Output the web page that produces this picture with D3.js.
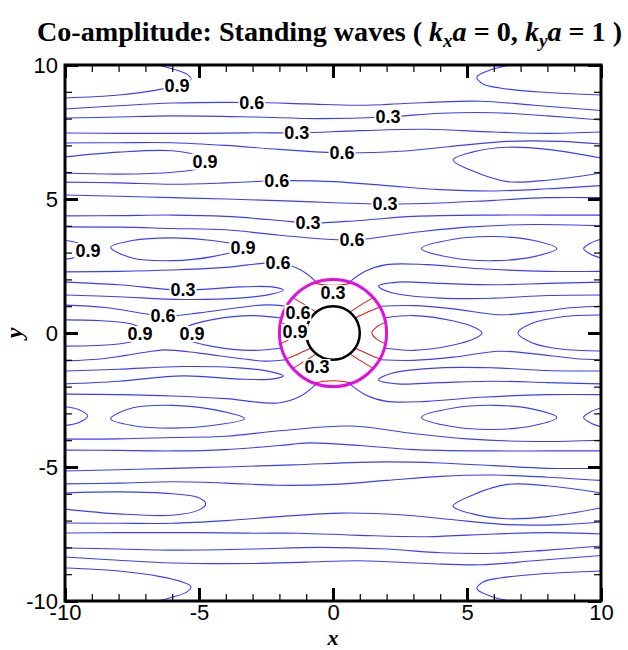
<!DOCTYPE html>
<html>
<head>
<meta charset="utf-8">
<script src="https://cdn.jsdelivr.net/npm/d3@7"></script>
<style>
  body { margin: 0; background: #fff; }
  svg { display: block; }
</style>
</head>
<body>
<svg id="chart" width="628" height="650"></svg>
<script>
// ---- axes ----
const xDomain = [-10, 10];
const yDomain = [-10, 10];
const majorTicks = [-10, -5, 0, 5, 10];
const minorTicks = d3.range(-10, 11, 1);

// ---- geometry of the body ----
const cylinderRadius = 1;
const interfaceRadius = 2;

// ---- outer (far-field) contour lines, blue: [x, y] points ----
// open lines crossing the domain, level 0.6
const outer06 = [
  [[-10,8.36],[-8,8.48],[-6,8.58],[-3,8.6],[-1,8.55],[1,8.5],[3.5,8.6],[5.5,8.65],[7.5,8.5],[10,8.3]],
  [[-10,7.09],[-8,7.1],[-6,7.1],[-4,7.0],[-2,6.85],[0.3,6.72],[2.5,6.78],[4.3,6.95],[6.5,7.15],[8.5,7.15],[10,7.05]],
  [[-10,5.63],[-8,5.6],[-6,5.55],[-4,5.6],[-2.1,5.68],[0,5.65],[2,5.5],[4,5.35],[6,5.3],[8,5.38],[10,5.5]],
  [[-10,3.96],[-8,3.95],[-6,3.9],[-4,3.85],[-2,3.65],[0.7,3.47],[3,3.75],[5,3.95],[7.5,4.05],[10,4.0]],
  [[-10,2.28],[-8,2.3],[-6,2.35],[-4,2.45],[-2.05,2.61],[-1.2,2.35],[-0.62,1.9]],
  [[0.62,1.9],[1.2,2.3],[2,2.55],[3.5,2.55],[5.5,2.4],[8,2.3],[10,2.3]],
  [[-10,1.04],[-8.5,0.95],[-7,0.72],[-6.3,0.63],[-5,0.75],[-3.5,0.95],[-2.5,1.05],[-1.73,1.0]],
  [[1.73,1.0],[3,1.02],[4.5,0.9],[6.2,0.68],[7.5,0.78],[9,0.95],[10,1.0]],
  [[-10,-1.04],[-8.5,-0.95],[-7,-0.72],[-6.3,-0.63],[-5,-0.75],[-3.5,-0.95],[-2.5,-1.05],[-1.73,-1.0]],
  [[1.73,-1.0],[3,-1.02],[4.5,-0.9],[6.2,-0.68],[7.5,-0.78],[9,-0.95],[10,-1.0]],
  [[-10,-2.28],[-8,-2.3],[-6,-2.35],[-4,-2.45],[-2.05,-2.61],[-1.2,-2.35],[-0.62,-1.9]],
  [[0.62,-1.9],[1.2,-2.3],[2,-2.55],[3.5,-2.55],[5.5,-2.4],[8,-2.3],[10,-2.3]],
  [[-10,-3.96],[-8,-3.95],[-6,-3.9],[-4,-3.85],[-2,-3.65],[0.7,-3.47],[3,-3.75],[5,-3.95],[7.5,-4.05],[10,-4.0]],
  [[-10,-5.63],[-8,-5.6],[-6,-5.55],[-4,-5.6],[-2.1,-5.68],[0,-5.65],[2,-5.5],[4,-5.35],[6,-5.3],[8,-5.38],[10,-5.5]],
  [[-10,-7.09],[-8,-7.1],[-6,-7.1],[-4,-7.0],[-2,-6.85],[0.3,-6.72],[2.5,-6.78],[4.3,-6.95],[6.5,-7.15],[8.5,-7.15],[10,-7.05]],
  [[-10,-8.36],[-8,-8.48],[-6,-8.58],[-3,-8.6],[-1,-8.55],[1,-8.5],[3.5,-8.6],[5.5,-8.65],[7.5,-8.5],[10,-8.3]]
];

// level 0.3
const outer03 = [
  [[-10,8.02],[-8,8.06],[-6,8.1],[-3,8.06],[-0.5,8.0],[2,8.06],[4,8.2],[6,8.22],[8,8.1],[10,7.95]],
  [[-10,7.46],[-8,7.45],[-5,7.45],[-3,7.47],[-1.3,7.47],[1,7.55],[3.5,7.6],[6,7.5],[8,7.45],[10,7.5]],
  [[-10,5.15],[-8,5.1],[-6,5.05],[-4,5.0],[-1.5,4.92],[1.9,4.81],[4,4.85],[6,4.95],[8,5.05],[10,5.05]],
  [[-10,4.37],[-8,4.38],[-6,4.4],[-4,4.35],[-2,4.2],[-0.9,4.1],[1,4.2],[3,4.35],[6,4.4],[8,4.4],[10,4.4]],
  [[-10,1.9],[-8,1.8],[-5.6,1.6],[-3.5,1.72],[-2.3,1.72],[-1.85,1.6],[-2.3,1.45],[-3.5,1.3],[-5.6,1.25],[-8,1.35],[-10,1.42]],
  [[10,1.9],[8,1.85],[6,1.8],[4,1.85],[2.4,1.9],[1.7,1.75],[2.2,1.5],[4,1.3],[6,1.3],[8,1.4],[10,1.42]],
  [[-10,-1.9],[-8,-1.8],[-5.6,-1.6],[-3.5,-1.72],[-2.3,-1.72],[-1.85,-1.6],[-2.3,-1.45],[-3.5,-1.3],[-5.6,-1.25],[-8,-1.35],[-10,-1.42]],
  [[10,-1.9],[8,-1.85],[6,-1.8],[4,-1.85],[2.4,-1.9],[1.7,-1.75],[2.2,-1.5],[4,-1.3],[6,-1.3],[8,-1.4],[10,-1.42]],
  [[-10,-4.37],[-8,-4.38],[-6,-4.4],[-4,-4.35],[-2,-4.2],[-0.9,-4.1],[1,-4.2],[3,-4.35],[6,-4.4],[8,-4.4],[10,-4.4]],
  [[-10,-5.15],[-8,-5.1],[-6,-5.05],[-4,-5.0],[-1.5,-4.92],[1.9,-4.81],[4,-4.85],[6,-4.95],[8,-5.05],[10,-5.05]],
  [[-10,-7.46],[-8,-7.45],[-5,-7.45],[-3,-7.47],[-1.3,-7.47],[1,-7.55],[3.5,-7.6],[6,-7.5],[8,-7.45],[10,-7.5]],
  [[-10,-8.02],[-8,-8.06],[-6,-8.1],[-3,-8.06],[-0.5,-8.0],[2,-8.06],[4,-8.2],[6,-8.22],[8,-8.1],[10,-7.95]]
];

// level 0.9 lobes that run into the frame or the interface circle
const outer09 = [
  [[-10,8.77],[-8,8.88],[-6.5,9.08],[-5.6,9.3],[-5.3,9.47],[-5.45,9.66],[-6.0,9.86],[-6.57,10]],
  [[6.6,10],[5.86,9.81],[5.37,9.55],[5.6,9.29],[6.23,9.14],[7.72,8.99],[10,8.88]],
  [[-10,6.57],[-8,6.75],[-6,6.8],[-5,6.6],[-4.75,6.38],[-5,6.15],[-6,6.0],[-8,5.93],[-10,5.97]],
  [[10,6.53],[8,6.85],[6.5,6.93],[5.2,6.75],[4.48,6.46],[5.2,6.05],[6.5,5.65],[8,5.7],[10,5.97]],
  [[-10,3.45],[-9.5,3.35],[-9.15,3.1],[-9.5,2.85],[-10,2.75]],
  [[10,3.5],[9.6,3.35],[9.35,3.15],[9.6,2.95],[10,2.8]],
  [[-10,0.49],[-8.5,0.45],[-7.4,0.3],[-6.9,0],[-7.4,-0.3],[-8.5,-0.45],[-10,-0.49]],
  [[-1.92,0.56],[-3,0.65],[-4.5,0.5],[-5.4,0.25],[-5.65,0],[-5.4,-0.25],[-4.5,-0.5],[-3,-0.65],[-1.92,-0.56]],
  [[1.92,0.56],[3,0.65],[4.5,0.45],[5.3,0.2],[5.56,0],[5.3,-0.2],[4.5,-0.45],[3,-0.65],[1.92,-0.56]],
  [[10,0.67],[8.5,0.6],[7.4,0.35],[6.9,0],[7.4,-0.35],[8.5,-0.6],[10,-0.67]],
  [[-10,-3.45],[-9.5,-3.35],[-9.15,-3.1],[-9.5,-2.85],[-10,-2.75]],
  [[10,-3.5],[9.6,-3.35],[9.35,-3.15],[9.6,-2.95],[10,-2.8]],
  [[-10,-6.57],[-8,-6.75],[-6,-6.8],[-5,-6.6],[-4.75,-6.38],[-5,-6.15],[-6,-6.0],[-8,-5.93],[-10,-5.97]],
  [[10,-6.53],[8,-6.85],[6.5,-6.93],[5.2,-6.75],[4.48,-6.46],[5.2,-6.05],[6.5,-5.65],[8,-5.7],[10,-5.97]],
  [[-10,-8.77],[-8,-8.88],[-6.5,-9.08],[-5.6,-9.3],[-5.3,-9.47],[-5.45,-9.66],[-6.0,-9.86],[-6.57,-10]],
  [[6.6,-10],[5.86,-9.81],[5.37,-9.55],[5.6,-9.29],[6.23,-9.14],[7.72,-8.99],[10,-8.88]]
];

// level 0.9 closed ovals
const ovals09 = [
  [[-8.3,3.2],[-7.5,3.45],[-6,3.55],[-4.5,3.45],[-3.3,3.2],[-4.5,2.85],[-6,2.7],[-7.5,2.8]],
  [[3.3,3.15],[4.5,3.5],[6,3.6],[7.5,3.45],[8.35,3.15],[7.5,2.85],[6,2.7],[4.5,2.8]],
  [[-8.3,-3.2],[-7.5,-3.45],[-6,-3.55],[-4.5,-3.45],[-3.3,-3.2],[-4.5,-2.85],[-6,-2.7],[-7.5,-2.8]],
  [[3.3,-3.15],[4.5,-3.5],[6,-3.6],[7.5,-3.45],[8.35,-3.15],[7.5,-2.85],[6,-2.7],[4.5,-2.8]]
];

// ---- inner (near-field) contour lines, red, between body and interface ----
const inner03 = [
  [[-0.7,1.87],[-0.35,1.8],[0,1.78],[0.35,1.8],[0.7,1.87]],
  [[-0.7,-1.87],[-0.35,-1.8],[0,-1.78],[0.35,-1.8],[0.7,-1.87]],
  [[-0.63,0.78],[-1.05,1.05],[-1.5,1.32]],
  [[0.63,0.78],[1.05,1.05],[1.5,1.32]],
  [[-0.63,-0.78],[-1.05,-1.05],[-1.5,-1.32]],
  [[0.63,-0.78],[1.05,-1.05],[1.5,-1.32]]
];
const inner06 = [
  [[-0.83,0.56],[-1.3,0.78],[-1.75,0.97]],
  [[0.83,0.56],[1.3,0.78],[1.75,0.97]],
  [[-0.83,-0.56],[-1.3,-0.78],[-1.75,-0.97]],
  [[0.83,-0.56],[1.3,-0.78],[1.75,-0.97]]
];
const inner09 = [
  [[-1.96,0.4],[-1.62,0.22],[-1.45,0],[-1.62,-0.22],[-1.96,-0.4]],
  [[1.96,0.4],[1.62,0.22],[1.45,0],[1.62,-0.22],[1.96,-0.4]]
];

// ---- contour labels ----
const labelText = ["0.9","0.6","0.3","0.3","0.6","0.9","0.6","0.3","0.3","0.6","0.9","0.9","0.6","0.3","0.6","0.9","0.9",
                   "0.3","0.6","0.9","0.3"];
const labelX = [-5.82,-3.03,2.05,-1.35,0.34,-4.78,-2.1,1.94,-0.93,0.71,-9.14,-3.36,-2.05,-5.6,-6.34,-7.2,-5.26,
                0.0,-1.31,-1.42,-0.6];
const labelY = [9.22,8.59,8.06,7.47,6.72,6.39,5.68,4.81,4.1,3.47,3.06,3.17,2.61,1.6,0.63,-0.04,-0.04,
                1.49,0.75,0.04,-1.27];

// ---- drawing ----
const svg = d3.select("#chart");
const plot = { left: 65, right: 601, top: 65, bottom: 601 };
const x = d3.scaleLinear().domain(xDomain).range([plot.left, plot.right]);
const y = d3.scaleLinear().domain(yDomain).range([plot.bottom, plot.top]);

const blue = "#3c3cff", red = "#e41a1a", magenta = "#e010e0";

const openLine = d3.line().x(d => x(d[0])).y(d => y(d[1])).curve(d3.curveCatmullRom.alpha(0.5));
const closedLine = d3.line().x(d => x(d[0])).y(d => y(d[1])).curve(d3.curveCatmullRomClosed.alpha(0.5));

svg.append("defs").append("clipPath").attr("id", "plotClip")
  .append("rect").attr("x", plot.left).attr("y", plot.top)
  .attr("width", plot.right - plot.left).attr("height", plot.bottom - plot.top);

const lines = svg.append("g").attr("clip-path", "url(#plotClip)").attr("fill", "none");

lines.selectAll("path.o06").data(outer06).join("path").attr("class", "o06")
  .attr("d", openLine).attr("stroke", blue).attr("stroke-width", 1.1);
lines.selectAll("path.o03").data(outer03).join("path").attr("class", "o03")
  .attr("d", openLine).attr("stroke", blue).attr("stroke-width", 1.1);
lines.selectAll("path.o09").data(outer09).join("path").attr("class", "o09")
  .attr("d", openLine).attr("stroke", blue).attr("stroke-width", 1.1);
lines.selectAll("path.ov").data(ovals09).join("path").attr("class", "ov")
  .attr("d", closedLine).attr("stroke", blue).attr("stroke-width", 1.1);

const innerAll = inner03.concat(inner06, inner09);
lines.selectAll("path.inner").data(innerAll).join("path").attr("class", "inner")
  .attr("d", openLine).attr("stroke", red).attr("stroke-width", 1.1);

// interface and body
const cx = x(0), cy = y(0);
const unit = x(1) - x(0);
svg.append("circle").attr("cx", cx).attr("cy", cy).attr("r", interfaceRadius * unit)
  .attr("fill", "none").attr("stroke", magenta).attr("stroke-width", 3);
svg.append("circle").attr("cx", cx).attr("cy", cy).attr("r", cylinderRadius * unit)
  .attr("fill", "#fff").attr("stroke", "#000").attr("stroke-width", 2.5);

// contour labels with a white box that breaks the line underneath
const labels = svg.append("g");
labelText.forEach((t, i) => {
  const g = labels.append("g");
  const txt = g.append("text")
    .attr("x", x(labelX[i])).attr("y", y(labelY[i]))
    .attr("text-anchor", "middle").attr("dominant-baseline", "central")
    .attr("font-family", "Liberation Sans, Arial, sans-serif")
    .attr("font-weight", "bold").attr("font-size", 18).attr("fill", "#000")
    .text(t);
  const bb = txt.node().getBBox();
  g.insert("rect", "text").attr("x", bb.x - 1).attr("y", bb.y + 2)
    .attr("width", bb.width + 2).attr("height", bb.height - 4).attr("fill", "#fff");
});

// axes: inward ticks on all four sides
const axisFont = "Liberation Sans, Arial, sans-serif";
const tickText = d => String(d);
function styleAxis(g, major) {
  g.select(".domain").remove();
  g.selectAll(".tick line").attr("stroke", "#000").attr("stroke-width", major ? 3 : 1.2);
  g.selectAll(".tick text").attr("font-family", axisFont).attr("font-size", 22).attr("fill", "#000");
}
svg.append("g").attr("transform", `translate(0,${plot.bottom})`)
  .call(d3.axisBottom(x).tickValues(minorTicks).tickSize(-7).tickFormat("")).call(g => styleAxis(g, false));
svg.append("g").attr("transform", `translate(0,${plot.bottom})`)
  .call(d3.axisBottom(x).tickValues(majorTicks).tickSize(-13).tickPadding(3).tickFormat(tickText))
  .call(g => styleAxis(g, true));
svg.append("g").attr("transform", `translate(0,${plot.top})`)
  .call(d3.axisTop(x).tickValues(minorTicks).tickSize(-7).tickFormat("")).call(g => styleAxis(g, false));
svg.append("g").attr("transform", `translate(0,${plot.top})`)
  .call(d3.axisTop(x).tickValues(majorTicks).tickSize(-13).tickFormat("")).call(g => styleAxis(g, true));
svg.append("g").attr("transform", `translate(${plot.left},0)`)
  .call(d3.axisLeft(y).tickValues(minorTicks).tickSize(-7).tickFormat("")).call(g => styleAxis(g, false));
svg.append("g").attr("transform", `translate(${plot.left},0)`)
  .call(d3.axisLeft(y).tickValues(majorTicks).tickSize(-13).tickPadding(7).tickFormat(tickText))
  .call(g => styleAxis(g, true));
svg.append("g").attr("transform", `translate(${plot.right},0)`)
  .call(d3.axisRight(y).tickValues(minorTicks).tickSize(-7).tickFormat("")).call(g => styleAxis(g, false));
svg.append("g").attr("transform", `translate(${plot.right},0)`)
  .call(d3.axisRight(y).tickValues(majorTicks).tickSize(-13).tickFormat("")).call(g => styleAxis(g, true));

// frame
svg.append("rect").attr("x", plot.left).attr("y", plot.top)
  .attr("width", plot.right - plot.left).attr("height", plot.bottom - plot.top)
  .attr("fill", "none").attr("stroke", "#000").attr("stroke-width", 3);

// axis titles
svg.append("text").attr("x", x(0)).attr("y", 645).attr("text-anchor", "middle")
  .attr("font-family", "Liberation Serif, Times New Roman, serif")
  .attr("font-weight", "bold").attr("font-style", "italic").attr("font-size", 22).text("x");
svg.append("text").attr("transform", `translate(22,${y(0)}) rotate(-90)`).attr("text-anchor", "middle")
  .attr("font-family", "Liberation Serif, Times New Roman, serif")
  .attr("font-weight", "bold").attr("font-style", "italic").attr("font-size", 24).text("y");

// title
const title = svg.append("text").attr("x", 37).attr("y", 41)
  .attr("font-family", "Liberation Serif, Times New Roman, serif")
  .attr("font-weight", "bold").attr("font-size", 28).attr("fill", "#000")
  .attr("textLength", 585).attr("lengthAdjust", "spacingAndGlyphs");
title.append("tspan").text("Co-amplitude: Standing waves ( ");
title.append("tspan").attr("font-style", "italic").text("k");
title.append("tspan").attr("font-style", "italic").attr("font-size", 19).attr("dy", 6).text("x");
title.append("tspan").attr("font-style", "italic").attr("dy", -6).text("a");
title.append("tspan").text(" = 0, ");
title.append("tspan").attr("font-style", "italic").text("k");
title.append("tspan").attr("font-style", "italic").attr("font-size", 19).attr("dy", 6).text("y");
title.append("tspan").attr("font-style", "italic").attr("dy", -6).text("a");
title.append("tspan").text(" = 1 )");
</script>
</body>
</html>
